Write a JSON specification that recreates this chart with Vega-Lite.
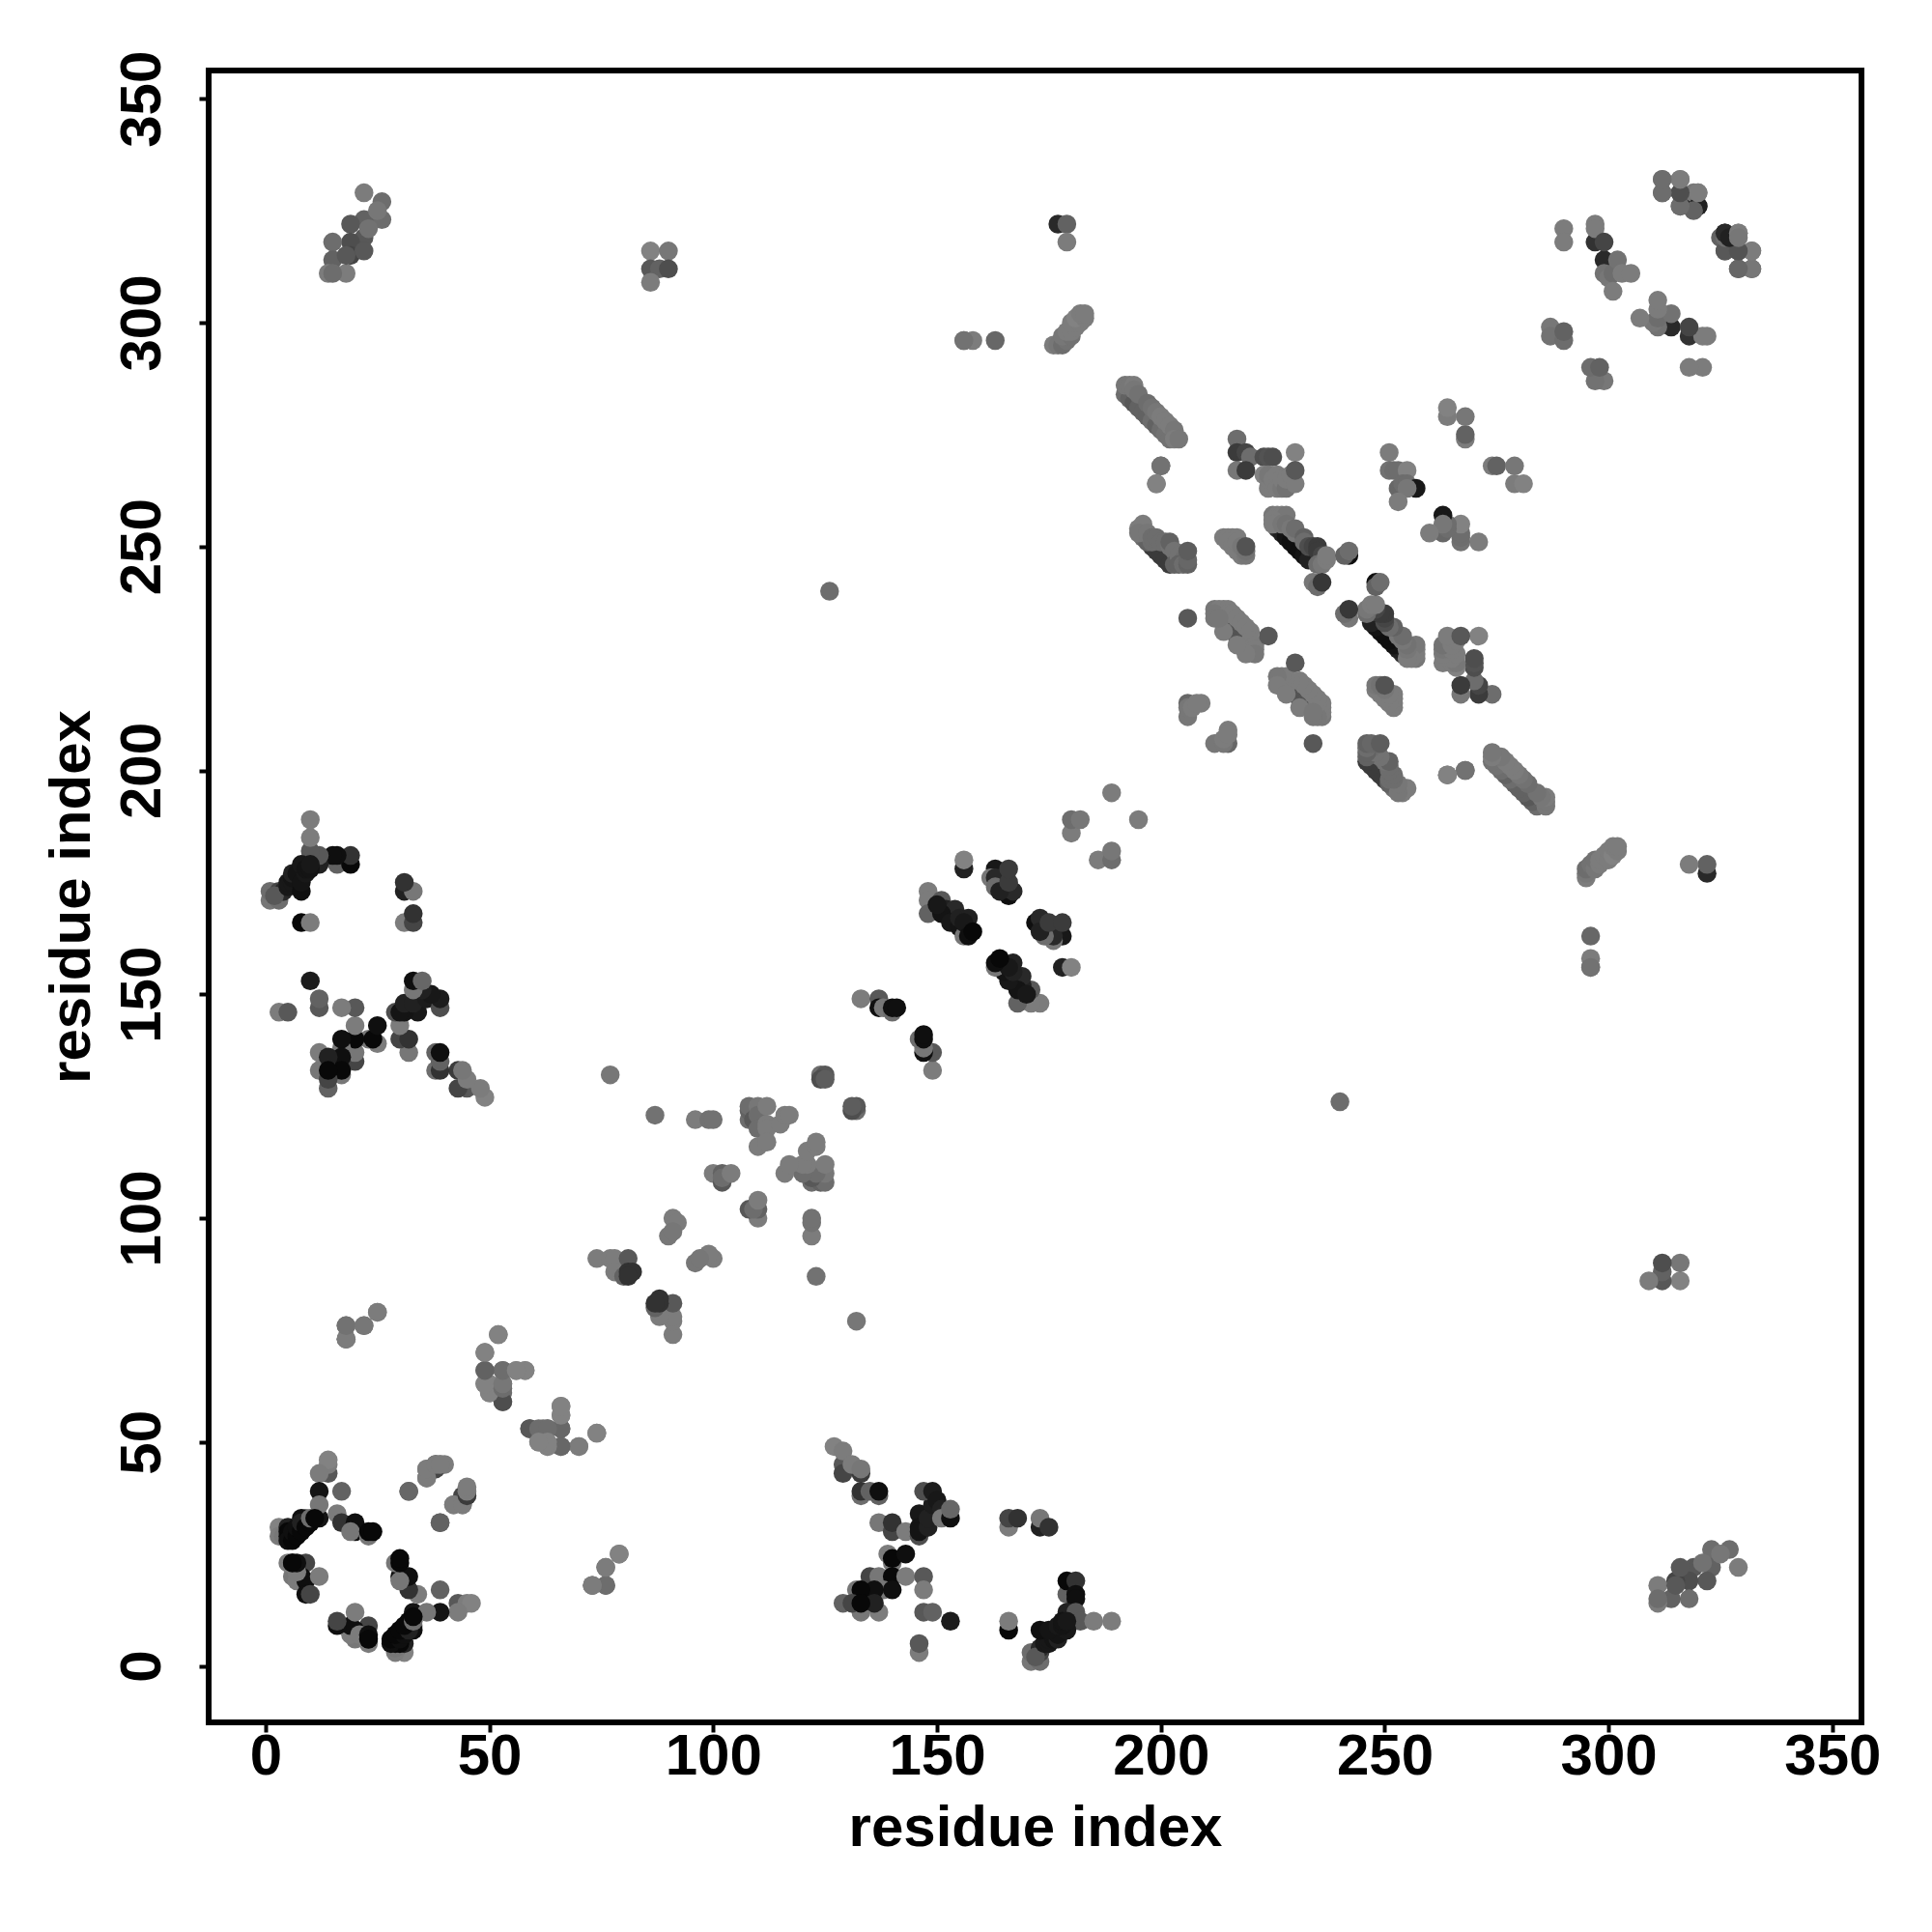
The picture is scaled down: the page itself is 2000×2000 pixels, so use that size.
{"$schema":"https://vega.github.io/schema/vega-lite/v6.json","autosize":"none","padding":{"left":216,"top":73,"right":72,"bottom":217},"width":1711,"height":1710,"background":"white","config":{"view":{"stroke":"black","strokeWidth":6},"axis":{"grid":false,"domain":false,"tickColor":"black","tickWidth":4,"tickSize":10,"labelFont":"Liberation Sans","labelFontWeight":"bold","labelFontSize":60,"labelColor":"black","titleFont":"Liberation Sans","titleFontWeight":"bold","titleFontSize":60,"titleColor":"black"}},
"datasets":{"contacts":[
{"i":18,"j":76,"g":110},{"i":18,"j":73,"g":125},{"i":22,"j":76,"g":125},{"i":25,"j":79,"g":130},{"i":52,"j":74,"g":130},{"i":49,"j":70,"g":125},{"i":49,"j":66,"g":105},{"i":53,"j":66,"g":105},{"i":56,"j":66,"g":130},{"i":58,"j":66,"g":130},{"i":53,"j":59,"g":90},{"i":53,"j":61,"g":110},{"i":53,"j":63,"g":110},{"i":49,"j":63,"g":130},{"i":50,"j":63,"g":130},{"i":50,"j":61,"g":130},{"i":59,"j":53,"g":80},{"i":61,"j":50,"g":130},{"i":63,"j":49,"g":130},{"i":62,"j":53,"g":110},{"i":63,"j":53,"g":120},{"i":66,"j":53,"g":110},{"i":66,"j":58,"g":130},{"i":66,"j":56,"g":130},{"i":66,"j":49,"g":100},{"i":70,"j":49,"g":130},{"i":74,"j":52,"g":130},{"i":18,"j":73,"g":125},
{"i":14,"j":43,"g":90},{"i":14,"j":45,"g":125},{"i":14,"j":46,"g":130},{"i":12,"j":43,"g":125},{"i":17,"j":39,"g":100},{"i":12,"j":39,"g":15},{"i":12,"j":33,"g":15},{"i":12,"j":36,"g":120},{"i":16,"j":34,"g":125},{"i":9,"j":33,"g":110},{"i":8,"j":33,"g":10},{"i":17,"j":32,"g":50},{"i":20,"j":30,"g":10},{"i":20,"j":32,"g":10},{"i":19,"j":30,"g":120},{"i":23,"j":29,"g":120},{"i":23,"j":30,"g":5},{"i":24,"j":30,"g":5},{"i":3,"j":31,"g":130},{"i":3,"j":29,"g":125},{"i":4,"j":29,"g":120},{"i":5,"j":29,"g":10},{"i":5,"j":31,"g":30},{"i":5,"j":30,"g":5},{"i":5,"j":28,"g":10},{"i":6,"j":28,"g":5},{"i":6,"j":30,"g":10},{"i":7,"j":29,"g":5},{"i":7,"j":31,"g":10},{"i":8,"j":30,"g":5},{"i":8,"j":32,"g":30},{"i":9,"j":31,"g":5},{"i":10,"j":32,"g":5},{"i":10,"j":33,"g":110},{"i":11,"j":33,"g":5},
{"i":32,"j":39,"g":100},{"i":36,"j":42,"g":125},{"i":36,"j":44,"g":125},{"i":38,"j":45,"g":60},{"i":39,"j":45,"g":125},{"i":40,"j":45,"g":125},{"i":39,"j":32,"g":105},{"i":44,"j":38,"g":70},{"i":42,"j":36,"g":125},{"i":44,"j":36,"g":125},{"i":45,"j":38,"g":125},{"i":45,"j":39,"g":125},{"i":6,"j":20,"g":120},{"i":5,"j":23,"g":125},{"i":6,"j":23,"g":5},{"i":9,"j":23,"g":70},{"i":8,"j":20,"g":10},{"i":7,"j":19,"g":125},{"i":9,"j":19,"g":10},{"i":12,"j":20,"g":125},{"i":9,"j":16,"g":10},{"i":10,"j":16,"g":70},{"i":7,"j":21,"g":125},{"i":7,"j":23,"g":10},{"i":6,"j":23,"g":5},{"i":73,"j":18,"g":125},{"i":76,"j":18,"g":115},{"i":76,"j":22,"g":120},{"i":79,"j":25,"g":125},
{"i":45,"j":129,"g":90},{"i":43,"j":129,"g":70},{"i":43,"j":133,"g":60},{"i":49,"j":127,"g":130},{"i":48,"j":129,"g":125},{"i":45,"j":131,"g":125},{"i":44,"j":133,"g":120},{"i":38,"j":133,"g":110},{"i":38,"j":137,"g":100},{"i":39,"j":133,"g":50},{"i":39,"j":135,"g":100},{"i":39,"j":137,"g":10},{"i":32,"j":137,"g":120},{"i":30,"j":140,"g":70},{"i":32,"j":140,"g":50},{"i":30,"j":143,"g":125},{"i":29,"j":146,"g":80},{"i":34,"j":146,"g":20},{"i":31,"j":146,"g":15},{"i":30,"j":146,"g":15},{"i":31,"j":148,"g":30},{"i":33,"j":148,"g":30},{"i":36,"j":149,"g":25},{"i":39,"j":147,"g":80},{"i":39,"j":149,"g":25},{"i":37,"j":150,"g":20},{"i":35,"j":151,"g":30},{"i":33,"j":151,"g":120},{"i":33,"j":153,"g":10},{"i":35,"j":153,"g":105},{"i":25,"j":139,"g":125},{"i":23,"j":140,"g":120},{"i":24,"j":140,"g":5},{"i":25,"j":143,"g":10},{"i":20,"j":135,"g":70},{"i":20,"j":137,"g":120},{"i":20,"j":140,"g":5},{"i":20,"j":143,"g":125},{"i":20,"j":147,"g":90},{"i":17,"j":147,"g":125},{"i":17,"j":132,"g":120},{"i":17,"j":138,"g":120},{"i":17,"j":140,"g":10},{"i":17,"j":136,"g":10},{"i":17,"j":133,"g":5},{"i":12,"j":133,"g":120},{"i":12,"j":137,"g":125},{"i":14,"j":129,"g":100},{"i":14,"j":131,"g":70},{"i":14,"j":136,"g":30},{"i":14,"j":133,"g":5},{"i":12,"j":147,"g":90},{"i":12,"j":149,"g":100},{"i":10,"j":153,"g":25},{"i":3,"j":146,"g":125},{"i":5,"j":146,"g":90},{"i":31,"j":166,"g":125},{"i":33,"j":166,"g":70},{"i":33,"j":168,"g":50},{"i":31,"j":173,"g":30},{"i":33,"j":173,"g":120},{"i":31,"j":175,"g":50},{"i":16,"j":179,"g":100},{"i":19,"j":179,"g":5},{"i":19,"j":181,"g":50},{"i":16,"j":181,"g":10},{"i":15,"j":181,"g":10},{"i":12,"j":179,"g":30},{"i":12,"j":181,"g":90},{"i":8,"j":166,"g":5},{"i":10,"j":166,"g":125},{"i":10,"j":182,"g":90},{"i":10,"j":185,"g":125},{"i":10,"j":189,"g":125},{"i":1,"j":171,"g":120},{"i":1,"j":173,"g":110},{"i":3,"j":171,"g":110},{"i":3,"j":173,"g":70},{"i":4,"j":173,"g":40},{"i":2,"j":172,"g":90},{"i":5,"j":174,"g":20},{"i":5,"j":175,"g":20},{"i":6,"j":175,"g":20},{"i":6,"j":176,"g":15},{"i":6,"j":177,"g":30},{"i":7,"j":177,"g":15},{"i":8,"j":173,"g":10},{"i":8,"j":175,"g":15},{"i":8,"j":179,"g":20},{"i":9,"j":177,"g":20},{"i":9,"j":178,"g":15},{"i":10,"j":178,"g":15},{"i":10,"j":179,"g":20},
{"i":86,"j":316,"g":130},{"i":90,"j":316,"g":120},{"i":86,"j":312,"g":90},{"i":88,"j":312,"g":100},{"i":90,"j":312,"g":80},{"i":86,"j":309,"g":125},
{"i":22,"j":329,"g":125},{"i":26,"j":327,"g":110},{"i":26,"j":323,"g":110},{"i":22,"j":323,"g":100},{"i":19,"j":322,"g":90},{"i":22,"j":319,"g":90},{"i":19,"j":318,"g":80},{"i":15,"j":318,"g":110},{"i":15,"j":314,"g":100},{"i":19,"j":315,"g":70},{"i":22,"j":316,"g":90},{"i":14,"j":311,"g":125},{"i":18,"j":311,"g":125},{"i":15,"j":311,"g":110},{"i":18,"j":315,"g":90},{"i":23,"j":321,"g":115},{"i":25,"j":325,"g":120},
{"i":126,"j":240,"g":110},{"i":77,"j":132,"g":120},{"i":87,"j":123,"g":115},{"i":96,"j":122,"g":125},{"i":99,"j":122,"g":115},{"i":100,"j":122,"g":115},
{"i":108,"j":122,"g":110},{"i":108,"j":124,"g":100},{"i":108,"j":125,"g":110},{"i":109,"j":122,"g":90},{"i":110,"j":125,"g":120},{"i":110,"j":123,"g":110},{"i":110,"j":120,"g":110},{"i":112,"j":125,"g":125},{"i":112,"j":121,"g":125},{"i":112,"j":120,"g":125},{"i":115,"j":121,"g":125},{"i":116,"j":123,"g":125},{"i":117,"j":123,"g":125},{"i":110,"j":116,"g":125},{"i":112,"j":117,"g":125},
{"i":124,"j":132,"g":110},{"i":125,"j":132,"g":90},{"i":124,"j":131,"g":80},{"i":125,"j":131,"g":95},
{"i":100,"j":110,"g":125},{"i":102,"j":108,"g":90},{"i":102,"j":110,"g":100},{"i":102,"j":109,"g":110},{"i":104,"j":110,"g":125},{"i":91,"j":100,"g":125},{"i":92,"j":99,"g":125},{"i":90,"j":96,"g":120},{"i":91,"j":97,"g":120},
{"i":74,"j":91,"g":125},{"i":77,"j":91,"g":125},{"i":78,"j":91,"g":125},{"i":81,"j":91,"g":90},{"i":78,"j":88,"g":125},{"i":80,"j":87,"g":100},{"i":81,"j":88,"g":50},{"i":82,"j":88,"g":50},{"i":81,"j":87,"g":50},
{"i":156,"j":178,"g":30},{"i":156,"j":180,"g":130},{"i":163,"j":178,"g":20},{"i":162,"j":176,"g":120},{"i":163,"j":176,"g":40},{"i":166,"j":172,"g":10},{"i":167,"j":173,"g":40},{"i":163,"j":174,"g":110},{"i":164,"j":173,"g":30},{"i":166,"j":175,"g":60},{"i":166,"j":178,"g":60},
{"i":148,"j":173,"g":125},{"i":148,"j":171,"g":125},{"i":148,"j":168,"g":100},{"i":151,"j":171,"g":90},{"i":152,"j":169,"g":30},{"i":154,"j":169,"g":40},{"i":151,"j":168,"g":15},{"i":150,"j":170,"g":20},{"i":153,"j":166,"g":20},{"i":155,"j":165,"g":15},{"i":155,"j":167,"g":30},{"i":157,"j":167,"g":30},{"i":156,"j":163,"g":120},{"i":156,"j":166,"g":20},{"i":157,"j":163,"g":10},{"i":158,"j":164,"g":5},
{"i":133,"j":149,"g":125},{"i":137,"j":149,"g":90},{"i":137,"j":147,"g":10},{"i":138,"j":147,"g":120},{"i":140,"j":146,"g":110},{"i":140,"j":147,"g":10},{"i":141,"j":147,"g":10},
{"i":180,"j":186,"g":125},{"i":180,"j":189,"g":110},{"i":182,"j":189,"g":120},{"i":189,"j":195,"g":125},
{"i":200,"j":268,"g":110},{"i":199,"j":264,"g":130},
{"i":217,"j":274,"g":110},{"i":217,"j":271,"g":60},{"i":219,"j":271,"g":70},{"i":220,"j":270,"g":110},{"i":223,"j":270,"g":80},{"i":224,"j":270,"g":85},{"i":225,"j":270,"g":80},{"i":217,"j":267,"g":120},{"i":219,"j":267,"g":60},{"i":230,"j":271,"g":130},{"i":223,"j":266,"g":130},{"i":224,"j":263,"g":125},{"i":224,"j":265,"g":125},{"i":224,"j":266,"g":120},{"i":225,"j":265,"g":125},{"i":226,"j":263,"g":125},{"i":226,"j":266,"g":125},{"i":227,"j":263,"g":120},{"i":227,"j":265,"g":125},{"i":228,"j":263,"g":115},{"i":228,"j":265,"g":125},{"i":229,"j":266,"g":125},{"i":230,"j":264,"g":125},{"i":230,"j":267,"g":90},
{"i":251,"j":271,"g":125},{"i":251,"j":267,"g":115},{"i":252,"j":267,"g":110},{"i":253,"j":267,"g":110},{"i":255,"j":267,"g":130},{"i":253,"j":263,"g":105},{"i":254,"j":264,"g":110},{"i":255,"j":264,"g":110},{"i":257,"j":263,"g":20},{"i":255,"j":263,"g":120},{"i":253,"j":260,"g":125},
{"i":268,"j":274,"g":125},{"i":268,"j":275,"g":100},{"i":268,"j":279,"g":120},{"i":264,"j":279,"g":125},{"i":264,"j":281,"g":130},
{"i":192,"j":284,"g":110},{"i":193,"j":283,"g":100},{"i":194,"j":282,"g":90},{"i":195,"j":281,"g":100},{"i":196,"j":280,"g":100},{"i":197,"j":279,"g":100},{"i":198,"j":278,"g":110},{"i":199,"j":277,"g":100},{"i":200,"j":276,"g":110},{"i":201,"j":275,"g":115},{"i":202,"j":274,"g":115},{"i":192,"j":286,"g":120},{"i":193,"j":286,"g":120},{"i":194,"j":286,"g":125},{"i":194,"j":285,"g":120},{"i":195,"j":284,"g":115},{"i":197,"j":282,"g":110},{"i":198,"j":281,"g":115},{"i":199,"j":280,"g":120},{"i":200,"j":279,"g":125},{"i":201,"j":278,"g":125},{"i":202,"j":277,"g":125},{"i":203,"j":276,"g":120},{"i":203,"j":274,"g":125},{"i":204,"j":274,"g":120},
{"i":198,"j":250,"g":60},{"i":199,"j":249,"g":60},{"i":200,"j":248,"g":60},{"i":201,"j":247,"g":60},{"i":202,"j":246,"g":60},{"i":196,"j":252,"g":110},{"i":197,"j":251,"g":100},{"i":198,"j":251,"g":110},{"i":195,"j":254,"g":125},{"i":196,"j":255,"g":125},{"i":195,"j":253,"g":120},{"i":197,"j":253,"g":120},{"i":198,"j":252,"g":110},{"i":199,"j":252,"g":110},{"i":200,"j":251,"g":110},{"i":201,"j":251,"g":110},{"i":202,"j":250,"g":115},{"i":202,"j":251,"g":100},{"i":203,"j":249,"g":115},{"i":203,"j":246,"g":100},{"i":204,"j":248,"g":115},{"i":205,"j":247,"g":110},{"i":204,"j":246,"g":100},{"i":205,"j":246,"g":110},{"i":206,"j":246,"g":100},{"i":206,"j":247,"g":105},{"i":206,"j":249,"g":95},
{"i":214,"j":252,"g":125},{"i":215,"j":252,"g":125},{"i":216,"j":252,"g":125},{"i":217,"j":252,"g":125},{"i":215,"j":251,"g":125},{"i":216,"j":250,"g":125},{"i":217,"j":249,"g":125},{"i":218,"j":248,"g":125},{"i":219,"j":248,"g":120},{"i":217,"j":251,"g":125},{"i":218,"j":250,"g":120},{"i":219,"j":249,"g":115},{"i":219,"j":250,"g":85},
{"i":226,"j":254,"g":50},{"i":227,"j":253,"g":30},{"i":228,"j":252,"g":15},{"i":229,"j":251,"g":10},{"i":230,"j":250,"g":10},{"i":231,"j":249,"g":10},{"i":232,"j":248,"g":15},{"i":233,"j":247,"g":30},{"i":225,"j":257,"g":120},{"i":226,"j":257,"g":125},{"i":227,"j":257,"g":125},{"i":228,"j":257,"g":120},{"i":225,"j":256,"g":125},{"i":225,"j":255,"g":125},{"i":227,"j":255,"g":120},{"i":228,"j":255,"g":115},{"i":229,"j":254,"g":120},{"i":230,"j":253,"g":120},{"i":230,"j":254,"g":110},{"i":232,"j":252,"g":100},{"i":232,"j":251,"g":110},{"i":233,"j":250,"g":80},{"i":234,"j":250,"g":70},{"i":235,"j":250,"g":60},{"i":235,"j":249,"g":60},{"i":236,"j":248,"g":70},{"i":235,"j":246,"g":110},{"i":236,"j":246,"g":120},{"i":237,"j":247,"g":125},{"i":237,"j":248,"g":125},
{"i":234,"j":242,"g":120},{"i":235,"j":241,"g":110},{"i":236,"j":242,"g":55},{"i":242,"j":248,"g":10},{"i":241,"j":248,"g":100},{"i":242,"j":249,"g":110},
{"i":214,"j":233,"g":85},{"i":215,"j":232,"g":85},{"i":216,"j":231,"g":85},{"i":217,"j":230,"g":85},{"i":218,"j":229,"g":85},{"i":219,"j":228,"g":90},{"i":212,"j":236,"g":120},{"i":213,"j":236,"g":125},{"i":214,"j":236,"g":125},{"i":215,"j":236,"g":125},{"i":212,"j":235,"g":120},{"i":212,"j":234,"g":120},{"i":215,"j":235,"g":125},{"i":216,"j":235,"g":125},{"i":217,"j":234,"g":125},{"i":218,"j":233,"g":125},{"i":219,"j":232,"g":125},{"i":220,"j":231,"g":125},{"i":220,"j":229,"g":125},{"i":221,"j":228,"g":125},{"i":221,"j":227,"g":125},{"i":221,"j":226,"g":120},{"i":219,"j":226,"g":125},{"i":217,"j":228,"g":125},{"i":214,"j":231,"g":125},{"i":213,"j":234,"g":120},{"i":224,"j":230,"g":90},{"i":206,"j":234,"g":90},
{"i":206,"j":215,"g":105},{"i":209,"j":215,"g":125},{"i":206,"j":212,"g":120},{"i":206,"j":214,"g":120},{"i":207,"j":214,"g":125},{"i":208,"j":215,"g":125},
{"i":199,"j":264,"g":130},{"i":200,"j":268,"g":115},
{"i":290,"j":321,"g":125},{"i":290,"j":318,"g":125},{"i":297,"j":318,"g":50},{"i":297,"j":322,"g":125},{"i":297,"j":321,"g":125},{"i":299,"j":314,"g":40},{"i":299,"j":318,"g":70},{"i":299,"j":311,"g":115},{"i":300,"j":310,"g":120},{"i":301,"j":311,"g":110},{"i":302,"j":314,"g":115},{"i":303,"j":311,"g":125},{"i":305,"j":311,"g":125},{"i":301,"j":307,"g":125},
{"i":287,"j":299,"g":120},{"i":287,"j":297,"g":115},{"i":290,"j":296,"g":110},{"i":290,"j":298,"g":100},
{"i":312,"j":332,"g":120},{"i":316,"j":332,"g":125},{"i":312,"j":329,"g":105},{"i":316,"j":326,"g":90},{"i":316,"j":329,"g":85},{"i":319,"j":326,"g":110},{"i":320,"j":326,"g":40},{"i":319,"j":327,"g":30},{"i":320,"j":329,"g":125},{"i":319,"j":329,"g":120},
{"i":326,"j":320,"g":30},{"i":325,"j":319,"g":100},{"i":329,"j":320,"g":125},{"i":326,"j":316,"g":110},{"i":329,"j":316,"g":80},{"i":332,"j":316,"g":125},{"i":329,"j":312,"g":110},{"i":332,"j":312,"g":110},
{"i":156,"j":296,"g":120},{"i":158,"j":296,"g":125},{"i":163,"j":296,"g":105},{"i":156,"j":296,"g":115},
{"i":176,"j":295,"g":125},{"i":177,"j":295,"g":120},{"i":178,"j":295,"g":110},{"i":179,"j":296,"g":115},{"i":178,"j":297,"g":120},{"i":180,"j":297,"g":115},{"i":179,"j":298,"g":125},{"i":180,"j":298,"g":125},{"i":181,"j":299,"g":125},{"i":180,"j":300,"g":125},{"i":182,"j":300,"g":125},{"i":181,"j":301,"g":130},{"i":183,"j":301,"g":125},{"i":182,"j":302,"g":125},{"i":183,"j":302,"g":125},
{"i":177,"j":322,"g":40},{"i":179,"j":322,"g":100},{"i":179,"j":318,"g":125}
]},
"layer":[
{"data":{"name":"contacts"},"mark":{"type":"circle","size":380,"opacity":1},"encoding":{"x":{"field":"i","type":"quantitative","scale":{"domain":[-12.7,356.5],"nice":false,"zero":false},"axis":{"values":[0,50,100,150,200,250,300,350],"title":"residue index","labelPadding":-4,"titlePadding":15}},"y":{"field":"j","type":"quantitative","scale":{"domain":[-12.6,356.3],"nice":false,"zero":false},"axis":{"values":[0,50,100,150,200,250,300,350],"title":"residue index","labelAngle":-90,"labelAlign":"center","labelBaseline":"bottom","labelPadding":28,"titlePadding":12}},"color":{"field":"g","type":"quantitative","scale":{"domain":[0,135],"range":["#000000","#878787"]},"legend":null}}},
{"data":{"name":"contacts"},"mark":{"type":"circle","size":380,"opacity":1},"encoding":{"x":{"field":"j","type":"quantitative","scale":{"domain":[-12.7,356.5],"nice":false,"zero":false}},"y":{"field":"i","type":"quantitative","scale":{"domain":[-12.6,356.3],"nice":false,"zero":false}},"color":{"field":"g","type":"quantitative","scale":{"domain":[0,135],"range":["#000000","#878787"]},"legend":null}}}
]}
